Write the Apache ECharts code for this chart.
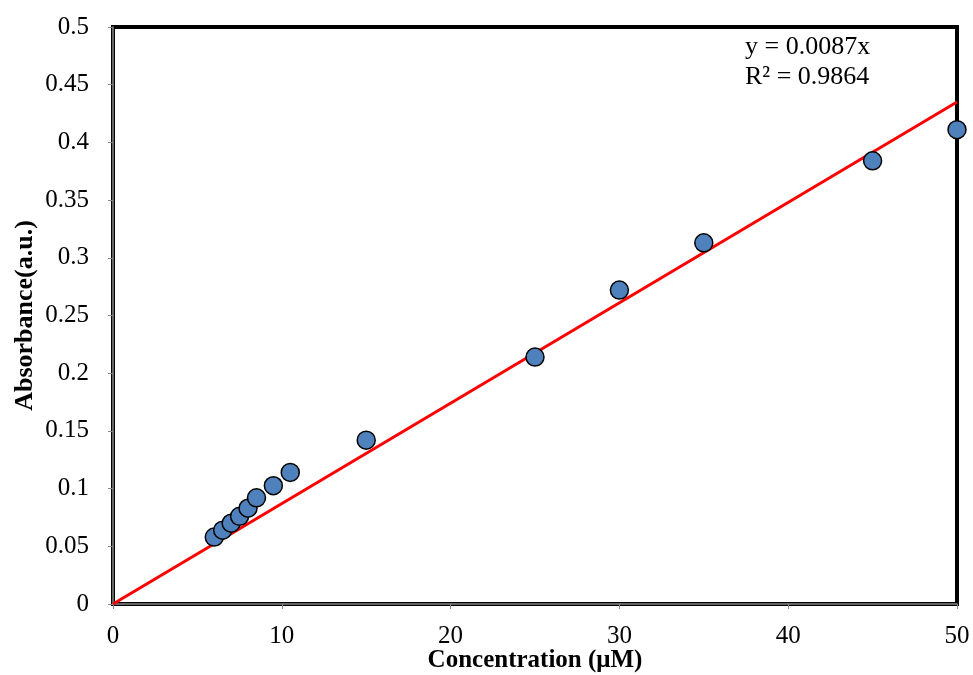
<!DOCTYPE html>
<html>
<head>
<meta charset="utf-8">
<script src="https://cdn.jsdelivr.net/npm/echarts@6/dist/echarts.min.js"></script>
<style>html,body{margin:0;padding:0;background:#fff}#c{width:973px;height:675px}</style>
</head>
<body>
<div id="c"></div>
<script>
const concentration = [6, 6.5, 7, 7.5, 8, 8.5, 9.5, 10.5, 15, 25, 30, 35, 45, 50];
const absorbance = [0.058, 0.064, 0.070, 0.076, 0.083, 0.092, 0.1025, 0.114, 0.142, 0.214, 0.272, 0.313, 0.384, 0.411];
const slope = 0.0087;
const fitX = [0, 50];
const equationText = ['y = 0.0087x', 'R² = 0.9864'];

const chart = echarts.init(document.getElementById('c'));
const font = 'Liberation Serif, Times New Roman, serif';
chart.setOption({
  animation: false,
  backgroundColor: '#fff',
  grid: {left: 113, right: 16, top: 27, bottom: 71, show: true, borderColor: '#000', borderWidth: 4,
    backgroundColor: 'transparent', containLabel: false, outerBoundsMode: 'none'},
  xAxis: {
    type: 'value', min: 0, max: 50, interval: 10,
    name: 'Concentration (μM)', nameLocation: 'middle', nameGap: 44, nameMoveOverlap: false,
    nameTextStyle: {fontFamily: font, fontSize: 25, fontWeight: 'bold', color: '#000'},
    axisLine: {show: true, lineStyle: {color: '#888', width: 1.5}},
    axisTick: {show: true, length: 5, lineStyle: {color: '#888'}},
    axisLabel: {fontFamily: font, fontSize: 25, color: '#000', margin: 20},
    splitLine: {show: false}
  },
  yAxis: {
    type: 'value', min: 0, max: 0.5, interval: 0.05,
    name: 'Absorbance(a.u.)', nameLocation: 'middle', nameGap: 75, nameMoveOverlap: false,
    nameTextStyle: {fontFamily: font, fontSize: 26, fontWeight: 'bold', color: '#000'},
    axisLine: {show: true, lineStyle: {color: '#888', width: 1.5}},
    axisTick: {show: true, length: 5, lineStyle: {color: '#888'}},
    axisLabel: {fontFamily: font, fontSize: 25, color: '#000', margin: 24,
      formatter: v => String(+v.toFixed(2))},
    splitLine: {show: false}
  },
  series: [
    {
      type: 'line', data: fitX.map(x => [x, slope * x]), symbol: 'none',
      lineStyle: {color: '#FF0000', width: 3}, z: 2
    },
    {
      type: 'scatter', data: concentration.map((x, i) => [x, absorbance[i]]),
      symbol: 'circle', symbolSize: 18,
      itemStyle: {color: '#4F81BD', borderColor: '#000', borderWidth: 1.5, opacity: 1}, z: 3
    }
  ],
  graphic: [{
    type: 'text', left: 745, top: 32,
    style: {text: equationText.join('\n'), fontFamily: font, fontSize: 26, fill: '#000', lineHeight: 30}
  }]
});
</script>
</body>
</html>
